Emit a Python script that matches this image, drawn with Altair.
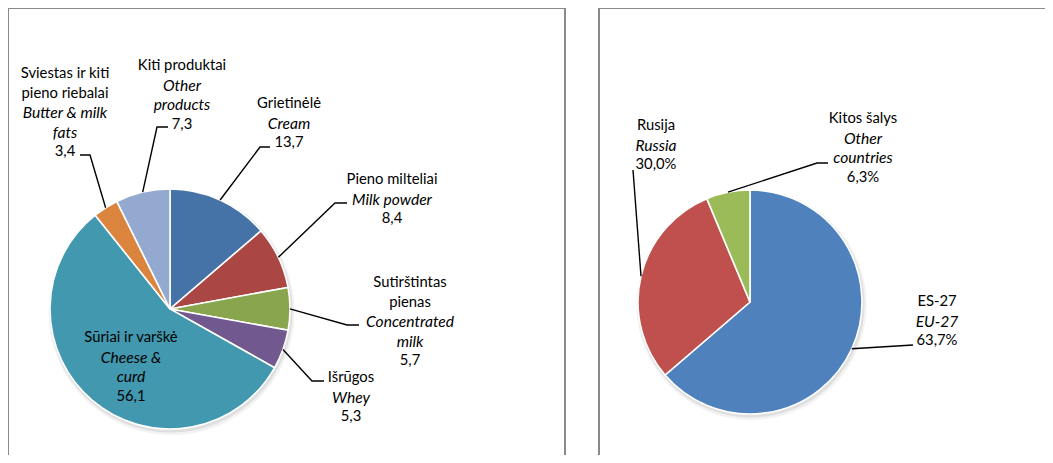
import altair as alt
import pandas as pd
import numpy as np

# ---------------- data ----------------
prod_lt = ["Grietinėlė", "Pieno milteliai", "Sutirštintas\npienas", "Išrūgos",
           "Sūriai ir varškė", "Sviestas ir kiti\npieno riebalai", "Kiti produktai"]
prod_en = ["Cream", "Milk powder", "Concentrated\nmilk", "Whey",
           "Cheese &\ncurd", "Butter & milk\nfats", "Other\nproducts"]
prod_val = [13.7, 8.4, 5.7, 5.3, 56.1, 3.4, 7.3]

ctry_lt = ["ES-27", "Rusija", "Kitos šalys"]
ctry_en = ["EU-27", "Russia", "Other\ncountries"]
ctry_val = [63.7, 30.0, 6.3]

# ---------------- styles / layout ----------------
prod_colors = ["#4572A7", "#AA4643", "#89A54E", "#71588F", "#4198AF", "#DB843D", "#93A9CF"]
ctry_colors = ["#4F81BD", "#C0504D", "#9BBB59"]

W, H = 1037, 447
FONT = "Lato"
FS = 14.8
FS_IT = 15.6
LINE = 19.5

left_center, left_r = (162, 301), 120
right_center, right_r = (742, 294), 112

# label layout: (center x, first line y, elbow, end) ; None = no leader
prod_layout = [
    (281, 96, (252, 139), (262, 139)),
    (384, 172, (327, 195), (339, 195)),
    (402, 275, (339, 317), (351, 317)),
    (343, 370, (304, 373), (316, 373)),
    (123, 330, None, None),
    (57, 66, (82, 147), (72, 147)),
    (174, 58, (149, 119), (160, 119)),
]
ctry_layout = [
    (929, 294, (905, 337), (905, 337)),
    (648, 118, (625, 162), (625, 162)),
    (855, 111, (809, 155), (820, 155)),
]


def pie_frame(names, vals, key):
    return pd.DataFrame({"name": names, "value": vals,
                         "idx": list(range(len(vals))), "pie": key})


def labels_and_leaders(lt, en, vals, layout, center, r, pct):
    vals = np.asarray(vals, dtype=float)
    cum = np.cumsum(vals) / vals.sum()
    start = np.concatenate([[0], cum[:-1]])
    mid = (start + cum) / 2 * 2 * np.pi
    text_rows, line_rows = [], []
    for i, (a, b, v) in enumerate(zip(lt, en, vals)):
        cx, y0, elbow, end = layout[i]
        val_txt = f"{v:.1f}".replace(".", ",") + ("%" if pct else "")
        lines = [(t, "n") for t in a.split("\n")] + [(t, "i") for t in b.split("\n")] + [(val_txt, "n")]
        for k, (t, s) in enumerate(lines):
            text_rows.append({"x": cx, "y": y0 + k * LINE, "t": t, "s": s})
        if elbow is not None:
            ex = center[0] + r * np.sin(mid[i])
            ey = center[1] - r * np.cos(mid[i])
            for k, (px, py) in enumerate([(ex, ey), elbow, end]):
                line_rows.append({"g": f"{pct}-{i}", "o": k, "x": px, "y": py})
    return pd.DataFrame(text_rows), pd.DataFrame(line_rows)


t1, l1 = labels_and_leaders(prod_lt, prod_en, prod_val, prod_layout, left_center, left_r, False)
t2, l2 = labels_and_leaders(ctry_lt, ctry_en, ctry_val, ctry_layout, right_center, right_r, True)
texts = pd.concat([t1, t2], ignore_index=True)
leaders = pd.concat([l1, l2], ignore_index=True)

borders = pd.DataFrame({
    "x": [0, 0, 557, 591, 591],
    "y": [0, 0, 0, 0, 0],
    "x2": [557, 0, 557, W, 591],
    "y2": [0, H, H, 0, H],
})


def pie_layers(df, colors, center, r):
    cx, cy = center
    shadow1 = alt.Chart(df.head(1)).mark_arc(theta=0, theta2=6.2832, radius=r + 3,
                                              color="#000000", opacity=0.05).encode(
        x=alt.value(cx + 1.5), y=alt.value(cy + 3))
    shadow2 = alt.Chart(df.head(1)).mark_arc(theta=0, theta2=6.2832, radius=r + 1.5,
                                              color="#000000", opacity=0.08).encode(
        x=alt.value(cx + 1), y=alt.value(cy + 2))
    pie = alt.Chart(df).mark_arc(radius=r, stroke="white", strokeWidth=1.6).encode(
        theta=alt.Theta("value:Q", stack=True),
        order=alt.Order("idx:Q"),
        color=alt.Color("name:N", scale=alt.Scale(domain=list(df["name"]), range=colors), legend=None),
        x=alt.value(cx), y=alt.value(cy),
    )
    return [shadow1, shadow2, pie]


left_df = pie_frame(prod_lt, prod_val, "prod")
right_df = pie_frame(ctry_lt, ctry_val, "ctry")

border_layer = alt.Chart(borders).mark_rule(color="#8a8a8a", strokeWidth=2).encode(
    x=alt.X("x:Q", scale=None), y=alt.Y("y:Q", scale=None),
    x2="x2:Q", y2="y2:Q")

leader_layer = alt.Chart(leaders).mark_line(color="#000000", strokeWidth=1.4).encode(
    x=alt.X("x:Q", scale=None), y=alt.Y("y:Q", scale=None),
    detail="g:N", order="o:Q")

text_normal = alt.Chart(texts).transform_filter(alt.datum.s == "n").mark_text(
    font=FONT, fontSize=FS, align="center", baseline="middle", color="#000000").encode(
    x=alt.X("x:Q", scale=None), y=alt.Y("y:Q", scale=None), text="t:N")
text_italic = alt.Chart(texts).transform_filter(alt.datum.s == "i").mark_text(
    font=FONT, fontSize=FS_IT, fontStyle="italic", align="center", baseline="middle",
    color="#000000").encode(
    x=alt.X("x:Q", scale=None), y=alt.Y("y:Q", scale=None), text="t:N")

layers = ([border_layer]
          + pie_layers(left_df, prod_colors, left_center, left_r)
          + pie_layers(right_df, ctry_colors, right_center, right_r)
          + [leader_layer, text_normal, text_italic])

chart = alt.layer(*layers).resolve_scale(
    color="independent", theta="independent"
).properties(
    width=W, height=H, padding=0, autosize="none"
).configure_view(stroke=None)

chart.save("out.html", embed_options={"renderer": "svg", "actions": False})
